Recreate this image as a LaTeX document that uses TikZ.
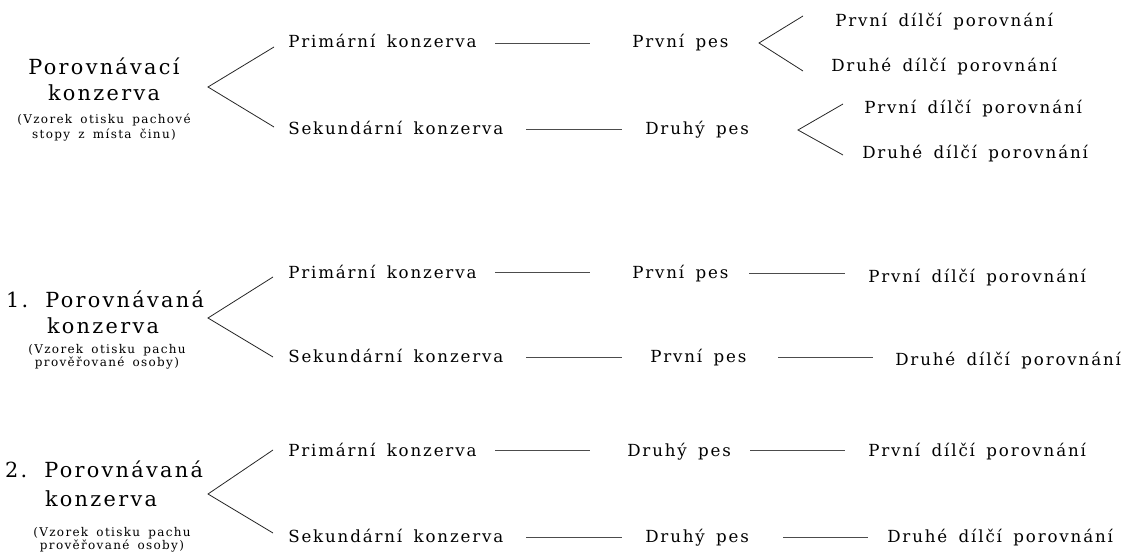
\documentclass[tikz,border=0pt]{standalone}
\usepackage{fontspec}
\setmainfont{DejaVu Serif}[LetterSpace=11,WordSpace=1.6]
\newfontfamily\spaced{DejaVu Serif}[LetterSpace=11,WordSpace=1.6]
\newcommand{\bodyf}{\spaced\fontsize{12.5pt}{14pt}\selectfont}
\newcommand{\bigf}{\spaced\fontsize{15.6pt}{18pt}\selectfont}
\newcommand{\smallf}{\spaced\fontsize{9pt}{10pt}\selectfont}
\begin{document}
\begin{tikzpicture}[x=0.75pt,y=-0.75pt,
  txt/.style={inner sep=0pt,anchor=base west,font=\bodyf},
  head/.style={inner sep=0pt,anchor=base,font=\bigf},
  sub/.style={inner sep=0pt,anchor=base,font=\smallf},
  conn/.style={draw=black!70,line width=0.75pt},
  fork/.style={draw=black!85,line width=0.6pt}]
\useasboundingbox (0,0) rectangle (1122,552);

% ---------- group 1 ----------
\node[head] (g1a) at (104,75) {Porovnávací};
\node[head] (g1b) at (104,101) {konzerva};
\node[sub] (g1c) at (104,124) {(Vzorek otisku pachové};
\node[sub] (g1d) at (104,139) {stopy z místa činu)};
\coordinate (f1) at (208,87);
\coordinate (f1u) at (274,47);
\coordinate (f1d) at (274,127);
\draw[fork] (f1u) -- (f1) -- (f1d);

\node[txt] (p1) at (288,48) {Primární konzerva};
\coordinate (l1a) at (495,44); \coordinate (l1b) at (590,44);
\draw[conn] (l1a) -- (l1b);
\node[txt] (d1) at (632,48) {První pes};
\coordinate (f2) at (759,43);
\coordinate (f2u) at (803,16);
\coordinate (f2d) at (803,71);
\draw[fork] (f2u) -- (f2) -- (f2d);
\node[txt] (r1) at (835,27) {První dílčí porovnání};
\node[txt] (r2) at (831,72) {Druhé dílčí porovnání};

\node[txt] (s1) at (288,135) {Sekundární konzerva};
\coordinate (l2a) at (526,130); \coordinate (l2b) at (622,130);
\draw[conn] (l2a) -- (l2b);
\node[txt] (d2) at (645,135) {Druhý pes};
\coordinate (f3) at (798,130);
\coordinate (f3u) at (843,104);
\coordinate (f3d) at (843,155);
\draw[fork] (f3u) -- (f3) -- (f3d);
\node[txt] (r3) at (864,114) {První dílčí porovnání};
\node[txt] (r4) at (862,159) {Druhé dílčí porovnání};

% ---------- group 2 ----------
\node[head] (g2a) at (105,308) {1. Porovnávaná};
\node[head] (g2b) at (103,334) {konzerva};
\node[sub] (g2c) at (107,354) {(Vzorek otisku pachu};
\node[sub] (g2d) at (107,367) {prověřované osoby)};
\coordinate (f4) at (208,318);
\coordinate (f4u) at (273,277);
\coordinate (f4d) at (273,357);
\draw[fork] (f4u) -- (f4) -- (f4d);

\node[txt] (p2) at (288,279) {Primární konzerva};
\coordinate (l3a) at (495,273); \coordinate (l3b) at (590,273);
\draw[conn] (l3a) -- (l3b);
\node[txt] (d3) at (632,279) {První pes};
\coordinate (l4a) at (749,274); \coordinate (l4b) at (845,274);
\draw[conn] (l4a) -- (l4b);
\node[txt] (r5) at (868,283) {První dílčí porovnání};

\node[txt] (s2) at (288,363) {Sekundární konzerva};
\coordinate (l5a) at (526,358); \coordinate (l5b) at (622,358);
\draw[conn] (l5a) -- (l5b);
\node[txt] (d4) at (650,363) {První pes};
\coordinate (l6a) at (778,358); \coordinate (l6b) at (873,358);
\draw[conn] (l6a) -- (l6b);
\node[txt] (r6) at (895,366) {Druhé dílčí porovnání};

% ---------- group 3 ----------
\node[head] (g3a) at (104,478) {2. Porovnávaná};
\node[head] (g3b) at (101,506) {konzerva};
\node[sub] (g3c) at (112,537) {(Vzorek otisku pachu};
\node[sub] (g3d) at (112,549) {prověřované osoby)};
\coordinate (f5) at (208,494);
\coordinate (f5u) at (273,450);
\coordinate (f5d) at (273,533);
\draw[fork] (f5u) -- (f5) -- (f5d);

\node[txt] (p3) at (288,456) {Primární konzerva};
\coordinate (l7a) at (495,451); \coordinate (l7b) at (590,451);
\draw[conn] (l7a) -- (l7b);
\node[txt] (d5) at (627,456) {Druhý pes};
\coordinate (l8a) at (750,451); \coordinate (l8b) at (845,451);
\draw[conn] (l8a) -- (l8b);
\node[txt] (r7) at (868,457) {První dílčí porovnání};

\node[txt] (s3) at (288,542) {Sekundární konzerva};
\coordinate (l9a) at (526,537); \coordinate (l9b) at (622,537);
\draw[conn] (l9a) -- (l9b);
\node[txt] (d6) at (645,542) {Druhý pes};
\coordinate (l10a) at (783,537); \coordinate (l10b) at (868,537);
\draw[conn] (l10a) -- (l10b);
\node[txt] (r8) at (887,542) {Druhé dílčí porovnání};
\end{tikzpicture}
\end{document}
